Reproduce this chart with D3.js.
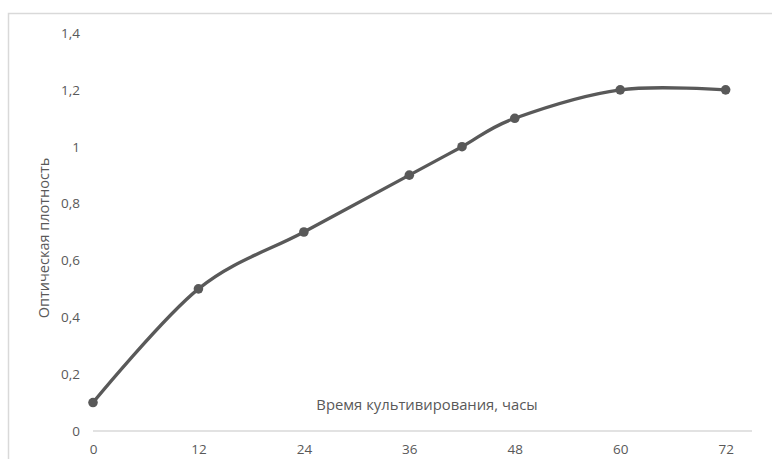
<!DOCTYPE html>
<html><head><meta charset="utf-8">
<script src="https://cdn.jsdelivr.net/npm/d3@7"></script>
<style>body{margin:0;background:#fff}svg{display:block}text{font-family:"Open Sans","Liberation Sans",sans-serif;fill:#595959}</style>
</head><body>
<svg id="c" width="772" height="459"></svg>
<script>
const hours = [0, 12, 24, 36, 42, 48, 60, 72];
const density = [0.1, 0.5, 0.7, 0.9, 1.0, 1.1, 1.2, 1.2];
const xTicks = [0, 12, 24, 36, 48, 60, 72];
const yTicks = [0, 0.2, 0.4, 0.6, 0.8, 1, 1.2, 1.4];
const xTitle = "Время культивирования, часы";
const yTitle = "Оптическая плотность";

const svg = d3.select("#c");
svg.append("rect").attr("x",8.5).attr("y",13.5).attr("width",800).attr("height",500)
  .attr("fill","none").attr("stroke","#d9d9d9").attr("stroke-width",1.5);

const x = d3.scaleLinear().domain([0,75]).range([93,752]);
const y = d3.scaleLinear().domain([0,1.4]).range([431,33]);
const fmt = d => String(+d.toFixed(1)).replace(".", ",");

svg.append("line").attr("x1",x(0)).attr("x2",x(75)).attr("y1",y(0)).attr("y2",y(0))
  .attr("stroke","#d9d9d9").attr("stroke-width",1.5);

const xa = svg.append("g").attr("transform",`translate(0,${y(0)})`)
  .call(d3.axisBottom(x).tickValues(xTicks).tickSize(0).tickPadding(13).tickFormat(d=>d));
xa.select(".domain").remove();
xa.selectAll("text").attr("font-size",13.5).style("fill","#595959");

const ya = svg.append("g").attr("transform",`translate(${x(0)},0)`)
  .call(d3.axisLeft(y).tickValues(yTicks).tickSize(0).tickPadding(13).tickFormat(fmt));
ya.select(".domain").remove();
ya.selectAll("text").attr("font-size",13.5).style("fill","#595959");

svg.append("text").attr("x",427).attr("y",410).attr("text-anchor","middle")
  .attr("font-size",14.8).text(xTitle);
svg.append("text").attr("transform","translate(49,238) rotate(-90)").attr("text-anchor","middle")
  .attr("font-size",14.5).text(yTitle);

const data = hours.map((h,i)=>({h, v:density[i]}));
const line = d3.line().x(d=>x(d.h)).y(d=>y(d.v)).curve(d3.curveCatmullRom.alpha(0));
svg.append("path").datum(data).attr("d",line).attr("fill","none")
  .attr("stroke","#595959").attr("stroke-width",3.3).attr("stroke-linecap","round");
svg.selectAll("circle.m").data(data).enter().append("circle").attr("class","m")
  .attr("cx",d=>x(d.h)).attr("cy",d=>y(d.v)).attr("r",4.8).attr("fill","#595959");
</script>
</body></html>
